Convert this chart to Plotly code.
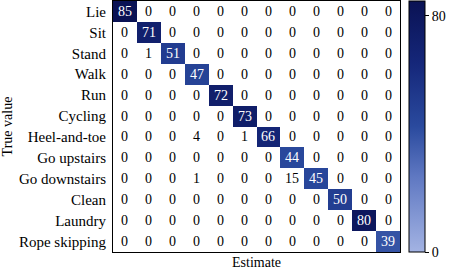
import plotly.graph_objects as go
import numpy as np

classes = ["Lie", "Sit", "Stand", "Walk", "Run", "Cycling", "Heel-and-toe",
           "Go upstairs", "Go downstairs", "Clean", "Laundry", "Rope skipping"]

matrix = [
    [85, 0, 0, 0, 0, 0, 0, 0, 0, 0, 0, 0],
    [0, 71, 0, 0, 0, 0, 0, 0, 0, 0, 0, 0],
    [0, 1, 51, 0, 0, 0, 0, 0, 0, 0, 0, 0],
    [0, 0, 0, 47, 0, 0, 0, 0, 0, 0, 0, 0],
    [0, 0, 0, 0, 72, 0, 0, 0, 0, 0, 0, 0],
    [0, 0, 0, 0, 0, 73, 0, 0, 0, 0, 0, 0],
    [0, 0, 0, 4, 0, 1, 66, 0, 0, 0, 0, 0],
    [0, 0, 0, 0, 0, 0, 0, 44, 0, 0, 0, 0],
    [0, 0, 0, 1, 0, 0, 0, 15, 45, 0, 0, 0],
    [0, 0, 0, 0, 0, 0, 0, 0, 0, 50, 0, 0],
    [0, 0, 0, 0, 0, 0, 0, 0, 0, 0, 80, 0],
    [0, 0, 0, 0, 0, 0, 0, 0, 0, 0, 0, 39],
]

n = len(classes)
m = np.array(matrix, dtype=float)
zc = np.full_like(m, np.nan)
for i in range(n):
    zc[i, i] = m[i, i]

font = "Liberation Serif"
colorscale = [[0.0, "#a3b3e3"], [0.3, "#5f78c2"], [0.5, "#2a4a9e"], [0.75, "#15277a"], [1.0, "#0a1254"]]

fig = go.Figure()
fig.add_trace(go.Heatmap(
    z=zc, x=list(range(n)), y=classes,
    zmin=0, zmax=85, colorscale=colorscale, hoverongaps=False,
    colorbar=dict(
        xref="container", x=409 / 452, xanchor="left", xpad=0,
        yref="paper", y=0.5, len=1, lenmode="fraction", ypad=0,
        thickness=16, outlinecolor="black", outlinewidth=1,
        tickvals=[0, 80], ticks="outside", ticklen=4, tickcolor="black",
        tickfont=dict(family=font, size=14, color="black"),
    ),
))

for i in range(n):
    for j in range(n):
        v = matrix[i][j]
        fig.add_annotation(
            x=j, y=classes[i], text=str(v), showarrow=False,
            font=dict(family=font, size=14, color="white" if i == j else "black"),
        )

fig.update_layout(
    width=452, height=270,
    margin=dict(l=113, r=52, t=1, b=18),
    plot_bgcolor="white", paper_bgcolor="white",
    font=dict(family=font, size=15, color="black"),
    xaxis=dict(range=[-0.5, n - 0.5], showticklabels=False, ticks="", showgrid=False,
               zeroline=False, showline=True, mirror=True, linecolor="black", linewidth=1,
               title=dict(text="Estimate", standoff=5, font=dict(family=font, size=14))),
    yaxis=dict(autorange="reversed", ticks="", showgrid=False, zeroline=False,
               showline=True, mirror=True, linecolor="black", linewidth=1,
               ticklabelstandoff=3,
               tickfont=dict(family=font, size=15),
               title=dict(text="True value", standoff=4, font=dict(family=font, size=14))),
)

fig.write_html("out.html", config={"displayModeBar": False},
               post_script="document.body.style.margin='0';")
